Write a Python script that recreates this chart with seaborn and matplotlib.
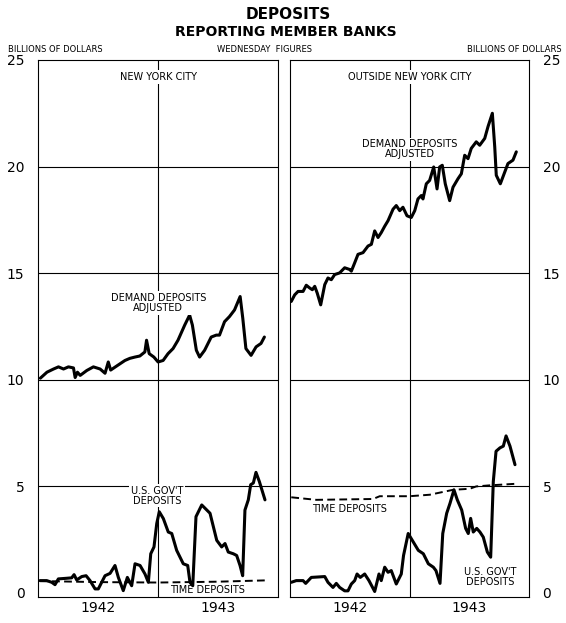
import numpy as np
import pandas as pd
import seaborn as sns
import matplotlib
matplotlib.use('Agg')
import matplotlib.pyplot as plt

sns.set_style('white')
plt.rcParams['font.family'] = ['DejaVu Sans']
plt.rcParams['text.color'] = 'black'
plt.rcParams['xtick.color'] = 'black'
plt.rcParams['ytick.color'] = 'black'

# time is in years since 1 Jan 1942 (weekly figures)
nyc_dd_t = [0.017, 0.072, 0.127, 0.168, 0.21, 0.251, 0.293, 0.307, 0.326, 0.349,
            0.404, 0.459, 0.515, 0.556, 0.583, 0.603, 0.653, 0.722, 0.763, 0.805,
            0.846, 0.888, 0.902, 0.924, 0.963, 0.998, 1.04, 1.081, 1.123, 1.164,
            1.22, 1.261, 1.284, 1.317, 1.344, 1.386, 1.441, 1.483, 1.51, 1.552,
            1.593, 1.635, 1.682, 1.704, 1.73, 1.773, 1.815, 1.856, 1.884]
nyc_dd_v = [10.07, 10.35, 10.5, 10.6, 10.5, 10.6, 10.55, 10.1, 10.35, 10.2,
            10.43, 10.6, 10.5, 10.3, 10.83, 10.45, 10.64, 10.9, 11.0, 11.06,
            11.11, 11.3, 11.85, 11.22, 11.06, 10.83, 10.9, 11.22, 11.46, 11.85,
            12.56, 13.03, 12.56, 11.38, 11.06, 11.38, 12.0, 12.09, 12.09, 12.72,
            12.96, 13.27, 13.9, 12.88, 11.46, 11.14, 11.54, 11.7, 12.0]

nyc_gov_t = [0.014, 0.07, 0.112, 0.139, 0.167, 0.237, 0.278, 0.298, 0.32, 0.362,
             0.398, 0.431, 0.473, 0.5, 0.528, 0.556, 0.598, 0.639, 0.667, 0.708,
             0.742, 0.778, 0.806, 0.848, 0.889, 0.917, 0.937, 0.964, 0.987, 1.008,
             1.042, 1.083, 1.112, 1.153, 1.208, 1.245, 1.264, 1.287, 1.314, 1.362,
             1.431, 1.487, 1.528, 1.556, 1.583, 1.625, 1.653, 1.681, 1.703, 1.722,
             1.75, 1.77, 1.792, 1.814, 1.842, 1.889]
nyc_gov_v = [0.57, 0.57, 0.49, 0.38, 0.65, 0.68, 0.7, 0.85, 0.6, 0.76,
             0.8, 0.57, 0.18, 0.18, 0.49, 0.8, 0.91, 1.28, 0.72, 0.1,
             0.72, 0.33, 1.36, 1.28, 0.88, 0.49, 1.83, 2.15, 3.25, 3.8,
             3.48, 2.85, 2.78, 1.99, 1.36, 1.28, 0.49, 0.33, 3.57, 4.12,
             3.73, 2.46, 2.15, 2.31, 1.91, 1.83, 1.75, 1.28, 0.8, 3.88,
             4.36, 5.07, 5.15, 5.65, 5.22, 4.36]

nyc_time_t = [0.014, 0.5, 1.0, 1.5, 1.889]
nyc_time_v = [0.55, 0.5, 0.48, 0.52, 0.58]

out_dd_t = [0.008, 0.037, 0.065, 0.107, 0.134, 0.163, 0.185, 0.205, 0.226, 0.255,
            0.289, 0.316, 0.344, 0.372, 0.414, 0.456, 0.498, 0.512, 0.54, 0.568,
            0.61, 0.652, 0.68, 0.708, 0.736, 0.763, 0.792, 0.82, 0.862, 0.889,
            0.918, 0.945, 0.979, 1.015, 1.044, 1.071, 1.099, 1.113, 1.141, 1.169,
            1.203, 1.231, 1.253, 1.275, 1.3, 1.337, 1.365, 1.407, 1.435, 1.463,
            1.491, 1.518, 1.56, 1.589, 1.631, 1.659, 1.695, 1.715, 1.728, 1.762,
            1.799, 1.826, 1.868, 1.896]
out_dd_v = [13.67, 13.98, 14.14, 14.14, 14.43, 14.3, 14.22, 14.38, 14.06, 13.51,
            14.46, 14.77, 14.69, 14.93, 15.01, 15.25, 15.17, 15.09, 15.48, 15.88,
            15.96, 16.27, 16.35, 16.98, 16.67, 16.9, 17.2, 17.46, 18.0, 18.17,
            17.93, 18.09, 17.69, 17.61, 17.93, 18.48, 18.64, 18.48, 19.19, 19.35,
            19.98, 18.95, 19.98, 20.06, 19.19, 18.4, 19.03, 19.43, 19.66, 20.53,
            20.37, 20.85, 21.16, 21.0, 21.32, 21.88, 22.5, 20.93, 19.59, 19.19,
            19.74, 20.14, 20.3, 20.69]

out_gov_t = [0.008, 0.05, 0.107, 0.129, 0.176, 0.289, 0.316, 0.358, 0.386, 0.414,
             0.456, 0.484, 0.512, 0.54, 0.56, 0.587, 0.624, 0.66, 0.708, 0.744,
             0.763, 0.792, 0.82, 0.847, 0.889, 0.931, 0.95, 0.989, 1.032, 1.074,
             1.116, 1.158, 1.2, 1.222, 1.256, 1.279, 1.312, 1.34, 1.373, 1.401,
             1.438, 1.471, 1.493, 1.513, 1.535, 1.564, 1.591, 1.619, 1.653, 1.681,
             1.703, 1.726, 1.759, 1.787, 1.81, 1.843, 1.885]
out_gov_v = [0.49, 0.57, 0.57, 0.44, 0.72, 0.76, 0.49, 0.25, 0.44, 0.25,
             0.09, 0.09, 0.41, 0.57, 0.88, 0.72, 0.88, 0.57, 0.06, 0.88,
             0.57, 1.2, 0.96, 1.04, 0.41, 0.88, 1.75, 2.78, 2.38, 1.99,
             1.83, 1.36, 1.2, 1.04, 0.44, 2.78, 3.73, 4.2, 4.83, 4.36,
             3.88, 3.02, 2.78, 3.49, 2.85, 3.02, 2.85, 2.61, 1.91, 1.67,
             5.22, 6.64, 6.8, 6.88, 7.36, 6.88, 6.01]

out_time_t = [0.008, 0.218, 0.694, 0.75, 1.0, 1.17, 1.365, 1.505, 1.56, 1.673, 1.882]
out_time_v = [4.48, 4.36, 4.4, 4.53, 4.53, 4.6, 4.83, 4.88, 4.99, 5.04, 5.11]

years = ['1942', '1943']
y_ticks = [0, 5, 10, 15, 20, 25]

START = 1942

fig = plt.figure(figsize=(5.66, 6.23), dpi=100)
ax_l = fig.add_axes([0.0677, 0.0417, 0.4240, 0.8620])
ax_r = fig.add_axes([0.5129, 0.0417, 0.4212, 0.8620])

def draw(ax, series):
    for t, v, dashed in series:
        df = pd.DataFrame({'t': np.array(t) + START, 'v': v})
        if dashed:
            sns.lineplot(data=df, x='t', y='v', ax=ax, color='black', lw=1.4,
                         sort=False, estimator=None, linestyle=(0, (4, 2.2)))
        else:
            sns.lineplot(data=df, x='t', y='v', ax=ax, color='black', lw=2.2,
                         sort=False, estimator=None)
    ax.set_xlim(START, START + 2)
    ax.set_ylim(-0.2, 25)
    ax.set_xticks([START + 0.5, START + 1.5])
    ax.set_xticklabels(years, fontsize=10)
    ax.set_yticks(y_ticks)
    ax.set_yticklabels([str(v) for v in y_ticks], fontsize=10)
    ax.tick_params(axis='y', length=0, pad=10)
    ax.tick_params(axis='x', length=0, pad=3)
    ax.set_xlabel('')
    ax.set_ylabel('')
    for yv in y_ticks[1:-1]:
        ax.axhline(yv, color='black', lw=0.8, zorder=1)
    ax.axvline(START + 1, color='black', lw=0.8, zorder=1)
    for s in ax.spines.values():
        s.set_color('black')
        s.set_linewidth(0.8)

draw(ax_l, [(nyc_time_t, nyc_time_v, True), (nyc_gov_t, nyc_gov_v, False), (nyc_dd_t, nyc_dd_v, False)])
draw(ax_r, [(out_time_t, out_time_v, True), (out_gov_t, out_gov_v, False), (out_dd_t, out_dd_v, False)])
ax_r.yaxis.tick_right()

lab = dict(fontsize=7, ha='center', va='center', linespacing=1.0,
           bbox=dict(facecolor='white', edgecolor='none', pad=1.2), zorder=4)
ax_l.text(START + 1.0, 24.2, 'NEW YORK CITY', **lab)
ax_r.text(START + 1.0, 24.2, 'OUTSIDE NEW YORK CITY', **lab)
ax_l.text(START + 1.0, 13.6, 'DEMAND DEPOSITS\nADJUSTED', **lab)
ax_r.text(START + 1.0, 20.8, 'DEMAND DEPOSITS\nADJUSTED', **lab)
ax_l.text(START + 0.99, 4.55, "U.S. GOV'T\nDEPOSITS", **lab)
ax_r.text(START + 1.675, 0.76, "U.S. GOV'T\nDEPOSITS", **lab)
ax_r.text(START + 0.5, 3.93, 'TIME DEPOSITS', **lab)
ax_l.text(START + 1.406, 0.12, 'TIME DEPOSITS', fontsize=7, ha='center', va='center', zorder=4)

fig.text(0.51, 0.976, 'DEPOSITS', fontsize=11, fontweight='bold', ha='center', va='center')
fig.text(0.505, 0.949, 'REPORTING MEMBER BANKS', fontsize=10, fontweight='bold', ha='center', va='center')
fig.text(0.014, 0.92, 'BILLIONS OF DOLLARS', fontsize=6, ha='left', va='center')
fig.text(0.993, 0.92, 'BILLIONS OF DOLLARS', fontsize=6, ha='right', va='center')
fig.text(0.468, 0.92, 'WEDNESDAY  FIGURES', fontsize=6, ha='center', va='center')

fig.savefig('out.png', dpi=100)
